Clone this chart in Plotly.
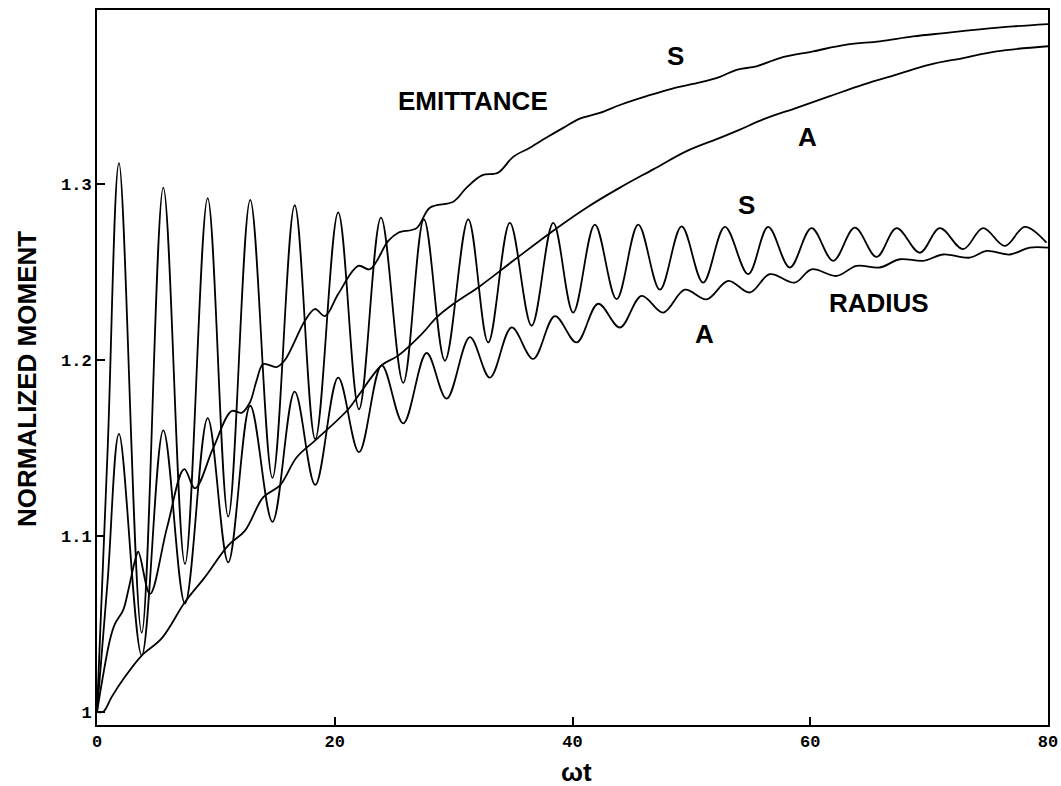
import plotly.graph_objects as go

# ---------------- data ----------------
# Radius, S case
rad_s_t = [0, 0.9, 1.85, 3.76, 5.58, 7.40, 9.31, 11.04, 12.89, 14.76, 16.63, 18.36, 20.29, 22.04,
           23.89, 25.76, 27.5, 29.27, 31.23, 32.91, 34.73, 36.56, 38.38, 40.06, 41.88, 43.71,
           45.53, 47.35, 49.18, 50.99, 52.82, 54.78, 56.46, 58.28, 60.11, 61.93, 63.75, 65.58,
           67.26, 69.22, 70.9, 72.86, 74.54, 76.37, 78.05, 79.87]
rad_s_v = [1.0, 1.150, 1.312, 1.045, 1.298, 1.084, 1.292, 1.111, 1.291, 1.133, 1.288, 1.155, 1.284, 1.172,
           1.281, 1.187, 1.280, 1.1996, 1.280, 1.210, 1.278, 1.2195, 1.278, 1.227, 1.277, 1.2346,
           1.277, 1.240, 1.276, 1.244, 1.2757, 1.2488, 1.2757, 1.2526, 1.275, 1.2564, 1.2753, 1.2586,
           1.275, 1.261, 1.275, 1.263, 1.275, 1.2649, 1.2757, 1.2667]

# Radius, A case
rad_a_t = [0, 0.9, 1.85, 3.76, 5.58, 7.40, 9.31, 11.04, 12.89, 14.76, 16.63, 18.36, 20.29, 22.04,
           23.95, 25.76, 27.73, 29.41, 31.37, 33.05, 34.88, 36.69, 38.52, 40.34, 42.16, 43.99,
           45.81, 47.63, 49.45, 51.28, 53.1, 54.92, 56.6, 58.7, 60.11, 62.21, 63.89, 65.85,
           67.54, 69.5, 71.18, 73.42, 74.83, 76.79, 78.47, 80.0]
rad_a_v = [1.0, 1.075, 1.158, 1.032, 1.160, 1.0615, 1.167, 1.085, 1.174, 1.108, 1.182, 1.129, 1.190, 1.1476,
           1.197, 1.164, 1.204, 1.178, 1.213, 1.190, 1.2185, 1.2006, 1.225, 1.210, 1.232, 1.2185,
           1.2365, 1.227, 1.240, 1.2345, 1.245, 1.2384, 1.2488, 1.244, 1.2516, 1.2478, 1.2535, 1.2526,
           1.2573, 1.2564, 1.260, 1.2582, 1.262, 1.260, 1.2639, 1.2639]

# Emittance, S case
emi_s_t = [0, 1.09, 1.51, 2.21, 2.63, 3.2, 3.47, 4.46, 5.9, 7.34, 8.24, 9.78, 11.33, 12.17, 12.87,
           13.41, 13.99, 15.11, 15.81, 17.49, 18.33, 19.18, 20.29, 21.98, 22.96, 24.5, 25.34,
           26.89, 28.0, 29.97, 31.09, 32.38, 33.73, 35.01, 36.42, 37.82, 39.22, 40.62, 42.3,
           43.99, 46.23, 48.47, 50.72, 52.4, 53.8, 55.48, 57.44, 60.24, 63.05, 65.85, 68.65,
           71.46, 74.26, 77.07, 80.0]
emi_s_v = [1.0, 1.041, 1.050, 1.058, 1.069, 1.086, 1.091, 1.067, 1.105, 1.138, 1.127, 1.150, 1.171, 1.170, 1.176,
           1.188, 1.1977, 1.196, 1.200, 1.2223, 1.229, 1.225, 1.2375, 1.2535, 1.2516, 1.2677, 1.2724,
           1.275, 1.2866, 1.290, 1.298, 1.305, 1.3065, 1.3155, 1.3207, 1.3265, 1.332, 1.3372, 1.3405,
           1.345, 1.350, 1.3545, 1.3578, 1.361, 1.365, 1.367, 1.3717, 1.3755, 1.3793, 1.3812, 1.384,
           1.386, 1.388, 1.3897, 1.391]

# Emittance, A case
emi_a_t = [0, 0.53, 1.24, 2.35, 3.76, 5.44, 7.40, 9.08, 11.04, 12.45, 13.99, 15.39, 16.8, 18.48,
           21.14, 21.98, 23.94, 25.34, 27.31, 28.57, 29.97, 32.21, 35.01, 38.38, 41.18, 43.99,
           46.79, 49.6, 52.4, 54.08, 56.04, 58.85, 61.65, 64.45, 67.26, 70.06, 72.86, 75.67, 80.0]
emi_a_v = [1.0, 1.0, 1.0085, 1.0199, 1.032, 1.0417, 1.0624, 1.0766, 1.0946, 1.103, 1.122, 1.1287, 1.1447, 1.155,
           1.172, 1.1797, 1.197, 1.2025, 1.2147, 1.2242, 1.2318, 1.242, 1.2564, 1.2735, 1.2866, 1.298,
           1.3084, 1.3188, 1.3263, 1.331, 1.3368, 1.3434, 1.350, 1.3566, 1.3623, 1.368, 1.3717, 1.3755, 1.3784]

x_ticks = [0, 20, 40, 60, 80]
x_tick_text = ["0", "20", "40", "60", "80"]
y_ticks = [1.0, 1.1, 1.2, 1.3]
y_tick_text = ["1", "1.1", "1.2", "1.3"]

# curve labels: (text, ωt, value)
labels = [
    ("EMITTANCE", 31.6, 1.347),
    ("S", 48.7, 1.3728),
    ("A", 59.8, 1.3267),
    ("S", 54.6, 1.288),
    ("RADIUS", 65.8, 1.2326),
    ("A", 51.1, 1.2147),
]

# ---------------- figure ----------------
fig = go.Figure()
line_style = dict(color="black", width=1.8, shape="spline", smoothing=1.0)
for t, v in [(rad_s_t, rad_s_v), (rad_a_t, rad_a_v), (emi_s_t, emi_s_v), (emi_a_t, emi_a_v)]:
    fig.add_trace(go.Scatter(x=t, y=v, mode="lines", line=line_style,
                             showlegend=False, hoverinfo="skip"))

label_font = dict(family="Liberation Sans, Arial, sans-serif", size=26, color="black", weight="bold")
for text, xv, yv in labels:
    fig.add_annotation(x=xv, y=yv, xref="x", yref="y", text=text, showarrow=False,
                       font=label_font, xanchor="center", yanchor="middle")

# axis titles
fig.add_annotation(x=-0.0736, y=0.484, xref="paper", yref="paper", text="NORMALIZED MOMENT",
                   textangle=-90, showarrow=False, font=label_font,
                   xanchor="center", yanchor="middle")
fig.add_annotation(x=0.5047, y=-0.066, xref="paper", yref="paper", text="ωt",
                   showarrow=False, font=label_font, xanchor="center", yanchor="middle")

tick_font = dict(family="Liberation Mono, Courier New, monospace", size=17, color="black", weight="bold")

fig.update_xaxes(range=[0, 80], tickvals=x_ticks, ticktext=x_tick_text, automargin=False,
                 ticks="inside", ticklen=8, tickwidth=1.5, tickcolor="black",
                 showline=True, linecolor="black", linewidth=1.8, mirror=True,
                 showgrid=False, zeroline=False, tickfont=tick_font)
fig.update_yaxes(range=[0.9925, 1.399], tickvals=y_ticks, ticktext=y_tick_text, automargin=False,
                 ticks="inside", ticklen=8, tickwidth=1.5, tickcolor="black",
                 showline=True, linecolor="black", linewidth=1.8, mirror=True,
                 showgrid=False, zeroline=False, tickfont=tick_font)

fig.update_layout(width=1061, height=786, autosize=False,
                  margin=dict(l=97, r=13, t=10, b=61),
                  paper_bgcolor="white", plot_bgcolor="white")

# remove the default page margin so the figure sits at the window's top-left corner
fig.write_html("out.html",
               config={"responsive": False, "displayModeBar": False},
               post_script="document.body.style.margin='0';document.body.style.overflow='hidden';")
